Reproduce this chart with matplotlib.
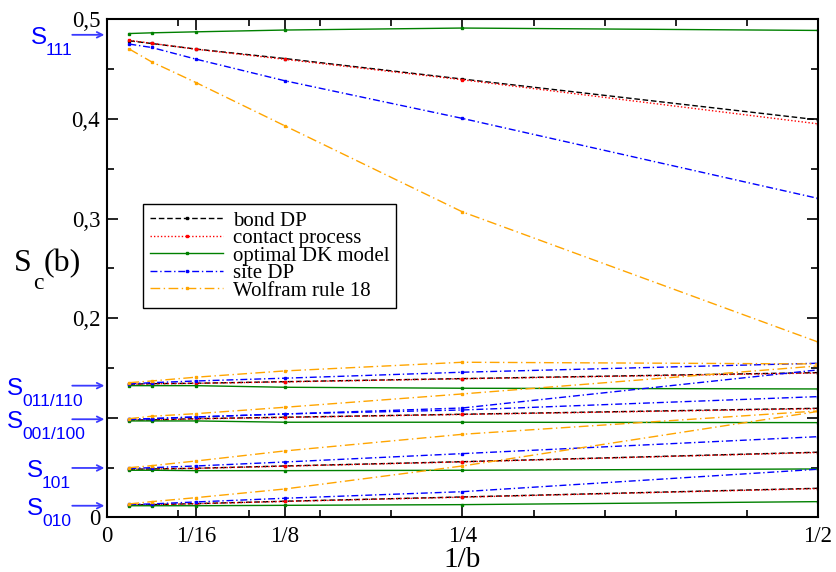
import numpy as np
import matplotlib
matplotlib.use("Agg")
import matplotlib.pyplot as plt
from matplotlib.ticker import FixedLocator, MultipleLocator

plt.rcParams["font.family"] = ["Liberation Serif", "DejaVu Serif"]

# 1/b values
x = [1 / 64, 1 / 32, 1 / 16, 1 / 8, 1 / 4, 1 / 2]

# s_111 group
bond_111 = [0.4784, 0.4757, 0.4701, 0.4606, 0.4400, 0.3991]
contact_111 = [0.4789, 0.4759, 0.4699, 0.4598, 0.4393, 0.3951]
dk_111 = [0.4857, 0.4864, 0.4874, 0.4892, 0.4912, 0.4888]
site_111 = [0.4751, 0.4717, 0.4600, 0.4383, 0.4005, 0.3203]
w18_111 = [0.4701, 0.4573, 0.4365, 0.3931, 0.3067, 0.1762]

# s_011/110 group
bond_011 = [0.1337, 0.1343, 0.1347, 0.1363, 0.1394, 0.1454]
contact_011 = [0.1336, 0.1342, 0.1346, 0.1361, 0.1392, 0.1450]
dk_011 = [0.1323, 0.1323, 0.1323, 0.1307, 0.1297, 0.1290]
site_011 = [0.1340, 0.1353, 0.1370, 0.1398, 0.1458, 0.1548]
w18_011 = [0.1353, 0.1370, 0.1408, 0.1471, 0.1558, 0.1541]

# s_001/100 group
bond_001 = [0.0979, 0.0979, 0.0992, 0.1006, 0.1036, 0.1096]
contact_001 = [0.0978, 0.0978, 0.0990, 0.1004, 0.1034, 0.1092]
dk_001 = [0.0969, 0.0969, 0.0969, 0.0956, 0.0956, 0.0952]
site_001 = [0.0984, 0.0992, 0.1009, 0.1039, 0.1099, 0.1481]
site_100 = [0.0984, 0.0992, 0.1009, 0.1039, 0.1079, 0.1213]
w18_001 = [0.0992, 0.1016, 0.1042, 0.1106, 0.1240, 0.1521]

# s_101 group
bond_101 = [0.0484, 0.0487, 0.0494, 0.0517, 0.0560, 0.0655]
contact_101 = [0.0483, 0.0486, 0.0493, 0.0515, 0.0558, 0.0652]
dk_101 = [0.0474, 0.0474, 0.0470, 0.0470, 0.0474, 0.0487]
site_101 = [0.0492, 0.0500, 0.0517, 0.0557, 0.0641, 0.0811]
w18_101 = [0.0500, 0.0520, 0.0567, 0.0668, 0.0835, 0.1069]

# s_010 group
bond_010 = [0.0126, 0.0129, 0.0139, 0.0163, 0.0206, 0.0293]
contact_010 = [0.0125, 0.0128, 0.0138, 0.0161, 0.0204, 0.0290]
dk_010 = [0.0118, 0.0118, 0.0118, 0.0122, 0.0129, 0.0159]
site_010 = [0.0131, 0.0136, 0.0156, 0.0193, 0.0259, 0.0484]
w18_010 = [0.0136, 0.0159, 0.0199, 0.0286, 0.0517, 0.1064]

# arrow levels and labels on the left
s_levels = [0.4844, 0.1323, 0.0986, 0.0497, 0.0118]
s_subs = ["111", "011/110", "001/100", "101", "010"]

xticks = [0, 1 / 16, 1 / 8, 1 / 4, 1 / 2]
xticklabels = ["0", "1/16", "1/8", "1/4", "1/2"]
yticks = [0, 0.1, 0.2, 0.3, 0.4, 0.5]
yticklabels = ["0", "", "0,2", "0,3", "0,4", "0,5"]

W, H = 837, 572
fig = plt.figure(figsize=(W / 100, H / 100), dpi=100)
ax = fig.add_axes([0.128, 0.0953, 0.849, 0.871])


def fx(px):
    return px / W


def fy(py):
    return 1 - py / H


styles = {
    "bond": dict(color="black", ls=(0, (4, 2)), label="bond DP"),
    "contact": dict(color="red", ls=(0, (1, 1.5)), label="contact process"),
    "dk": dict(color="green", ls="-", label="optimal DK model"),
    "site": dict(color="blue", ls=(0, (5, 2, 1, 2)), label="site DP"),
    "w18": dict(color="orange", ls=(0, (7, 2.5, 1, 2.5)), label="Wolfram rule 18"),
}
series = [
    ("bond", [bond_111, bond_011, bond_001, bond_101, bond_010]),
    ("contact", [contact_111, contact_011, contact_001, contact_101, contact_010]),
    ("dk", [dk_111, dk_011, dk_001, dk_101, dk_010]),
    ("site", [site_111, site_011, site_001, site_100, site_101, site_010]),
    ("w18", [w18_111, w18_011, w18_001, w18_101, w18_010]),
]
for key, ys in series:
    st = styles[key]
    for i, y in enumerate(ys):
        ax.plot(x, y, color=st["color"], linestyle=st["ls"], lw=1.0,
                marker="s", ms=2, label=st["label"] if i == 0 else None)

ax.set_xlim(0, 0.5)
ax.set_ylim(0, 0.5)
ax.xaxis.set_major_locator(FixedLocator(xticks))
ax.set_xticklabels(xticklabels)
ax.xaxis.set_minor_locator(MultipleLocator(0.05))
ax.yaxis.set_major_locator(FixedLocator(yticks))
ax.set_yticklabels(yticklabels)
ax.yaxis.set_minor_locator(MultipleLocator(0.05))
ax.tick_params(which="both", direction="in", top=True, right=True, labelsize=16.5, width=1.2)
ax.tick_params(axis="x", pad=6)
ax.tick_params(axis="y", pad=5)
ax.tick_params(which="major", length=8)
ax.tick_params(which="minor", length=5)
for sp in ax.spines.values():
    sp.set_linewidth(1.5)

ax.set_xlabel("1/b", fontsize=21, labelpad=0)

# y label S_c(b)
fig.text(fx(14), fy(271), "S", fontsize=23, ha="left", va="baseline")
fig.text(fx(33), fy(289), "c", fontsize=17, ha="left", va="baseline")
fig.text(fx(44), fy(271), "(b)", fontsize=23, ha="left", va="baseline")

# blue arrows and s labels
trans = ax.get_yaxis_transform()
s_left = [31, 7, 7, 27, 27]
for lev, sub, lx in zip(s_levels, s_subs, s_left):
    ax.annotate("", xy=(0.0, lev), xycoords=trans, xytext=(-0.053, lev), textcoords=trans,
                arrowprops=dict(arrowstyle="->", color="#3a3aff", lw=1.3), annotation_clip=False)
    base = ax.transData.transform((0, lev))[1]
    base_px = H - base
    fig.text(fx(lx), fy(base_px + 9), "S", fontsize=17.5, family="Liberation Sans",
             color="blue", ha="left", va="baseline")
    fig.text(fx(lx + 15), fy(base_px + 20), sub, fontsize=12.5, family="Liberation Sans",
             color="blue", ha="left", va="baseline")

leg = ax.legend(loc="upper left", bbox_to_anchor=(0.0506, 0.6295), fontsize=15, frameon=True,
                fancybox=False, edgecolor="black", framealpha=1, handlelength=3.5,
                handletextpad=0.45, labelspacing=-0.1, borderpad=0.35, borderaxespad=0)
leg.get_frame().set_linewidth(1.0)

fig.savefig("out.png", dpi=100)
